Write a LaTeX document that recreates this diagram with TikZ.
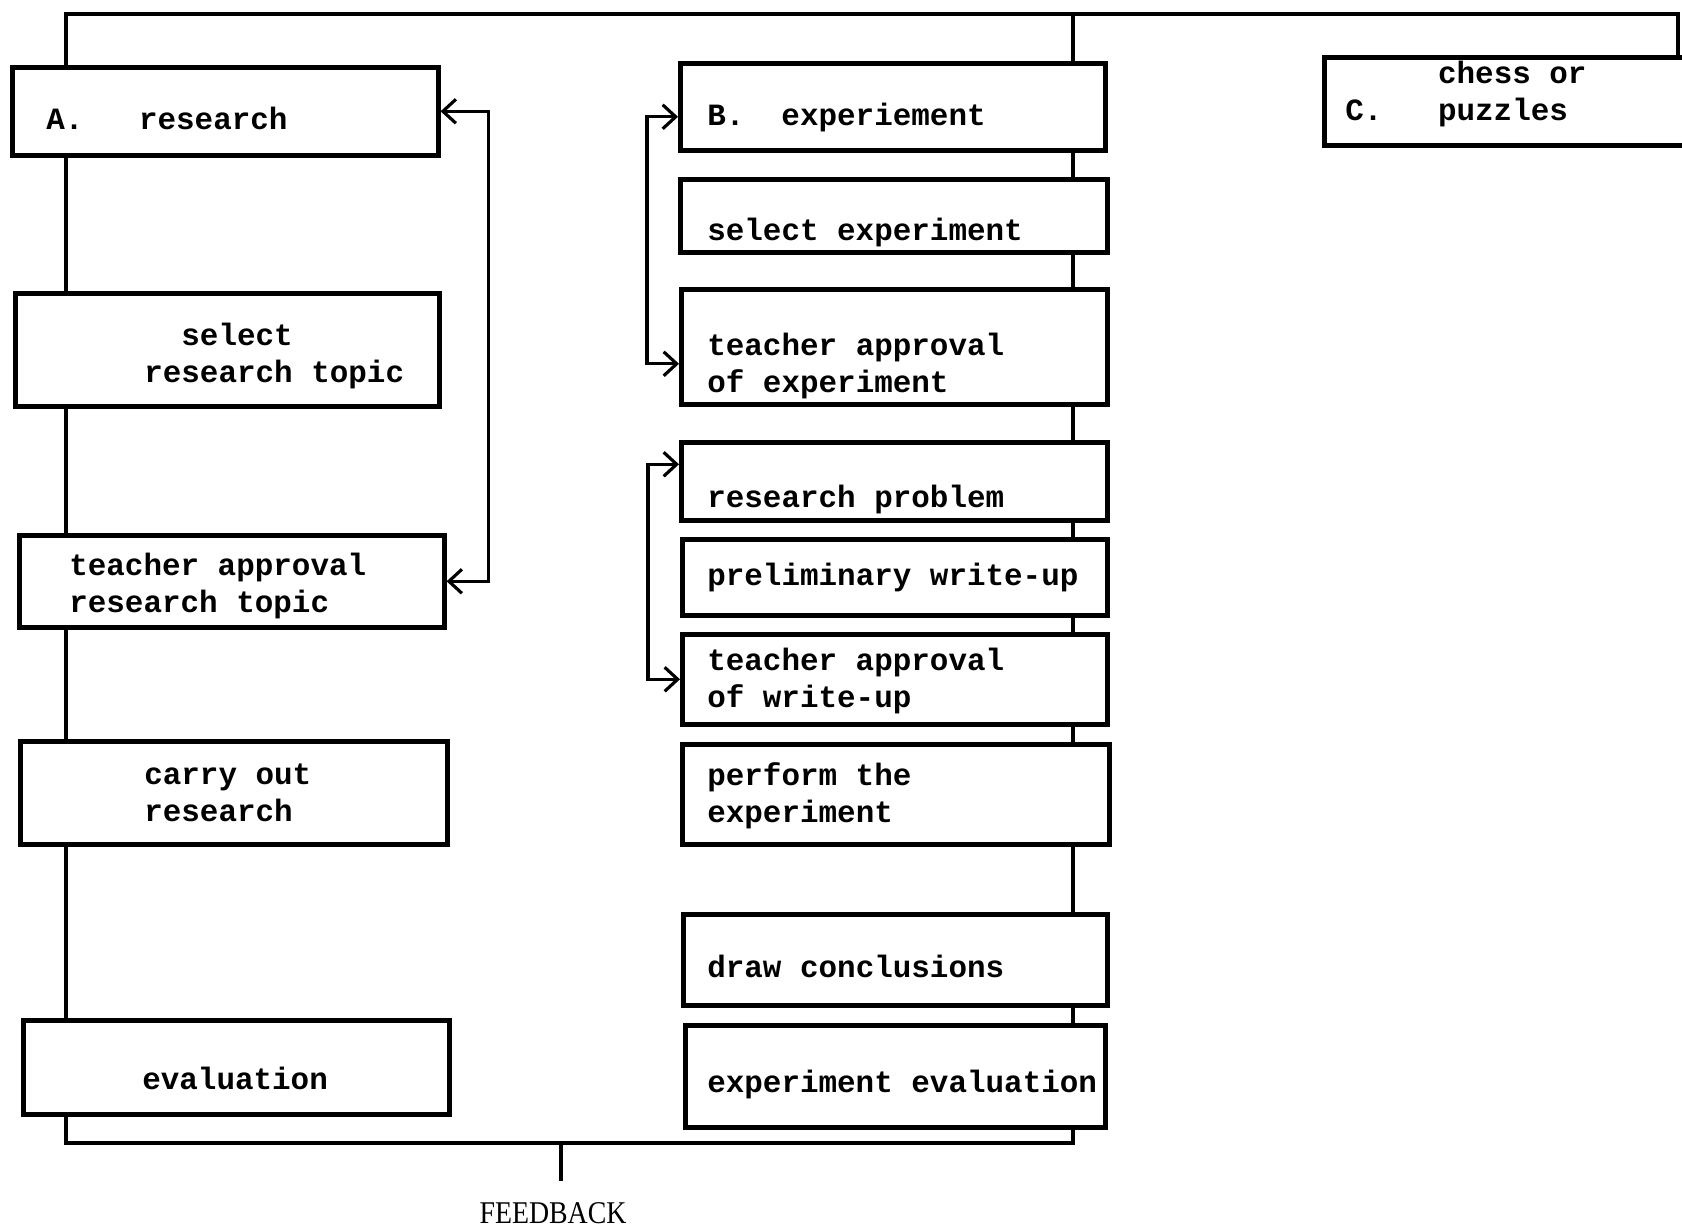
\documentclass[tikz,border=0pt]{standalone}
\usepackage{fontspec}
\setmainfont{Liberation Serif}
\setmonofont{Liberation Mono}
\usetikzlibrary{arrows.meta}
% typewriter face, every space as wide as a letter
\protected\def\boxfont{\ttfamily\bfseries\fontsize{8.8}{10.5}\selectfont
  \fontdimen2\font=0.6em\relax\fontdimen3\font=0pt\relax\fontdimen4\font=0pt\relax}

\begin{document}
\begin{tikzpicture}[x=0.1mm, y=-0.1mm,
    >={Straight Barb[length=1.3mm,width=2.4mm]},
    box/.style={draw, line width=1.3pt, rectangle, anchor=north west,
      inner sep=0pt, align=flush left, font=\boxfont},
    lpad/.style={execute at begin node={\leftskip=#1}},
    line/.style={line width=0.9pt}]
  \useasboundingbox (0,0) rectangle (1682,1228);

  % A. research
  \node[box, text width=42.6mm, text height=6.2mm, text depth=2.6mm, lpad=3.4mm] (a) at (10,65) {A.\ \ \ research};
  \node[box, text width=42.4mm, text height=5.2mm, text depth=6.1mm, lpad=12.9mm] (st) at (13,291) {\ \ select\\research topic};
  \node[box, text width=42.5mm, text height=4.0mm, text depth=5.2mm, lpad=5.0mm] (at) at (17,533) {teacher approval\\research topic};
  \node[box, text width=42.7mm, text height=4.3mm, text depth=6.0mm, lpad=12.4mm] (co) at (18,739) {carry out\\research};
  \node[box, text width=42.6mm, text height=6.9mm, text depth=2.5mm, lpad=11.9mm] (ev) at (21,1018) {evaluation};

  % B. experiment
  \node[box, text width=42.5mm, text height=6.2mm, text depth=2.5mm, lpad=2.7mm] (b) at (678,61) {B.\ \ experiement};
  \node[box, text width=42.7mm, text height=6.1mm, text depth=1.2mm, lpad=2.7mm] (se) at (678,177) {select experiment};
  \node[box, text width=42.6mm, text height=6.6mm, text depth=4.9mm, lpad=2.6mm] (ae) at (679,287) {teacher approval\\of experiment};
  \node[box, text width=42.6mm, text height=6.5mm, text depth=1.3mm, lpad=2.6mm] (rp) at (679,440) {research problem};
  \node[box, text width=42.5mm, text height=4.6mm, text depth=3.0mm, lpad=2.5mm] (pw) at (680,537) {preliminary write-up};
  \node[box, text width=42.5mm, text height=3.6mm, text depth=5.4mm, lpad=2.5mm] (aw) at (680,632) {teacher approval\\of write-up};
  \node[box, text width=42.7mm, text height=4.1mm, text depth=5.9mm, lpad=2.5mm] (pe) at (680,742) {perform the\\experiment};
  \node[box, text width=42.4mm, text height=6.3mm, text depth=2.8mm, lpad=2.4mm] (dc) at (681,912) {draw conclusions};
  \node[box, text width=42.0mm, text height=6.7mm, text depth=3.5mm, lpad=2.2mm] (ee) at (683,1023) {experiment evaluation};

  % C. chess or puzzles
  \node[box, text width=40mm, text height=2.6mm, text depth=6.2mm, lpad=2.1mm] (c) at (1322,55) {\ \ \ \ \ chess or\\C.\ \ \ puzzles};

  \node[font=\rmfamily\fontsize{9}{10}\selectfont, anchor=base, inner sep=2mm] (fb) at (553,1223) {\scalebox{.88}[1]{FEEDBACK}};

  \coordinate (tl) at (66,14);
  \coordinate (tm) at (1073,14);
  \coordinate (tr) at (1678,14);
  \coordinate (bl) at (66,1143);
  \coordinate (br) at (1073,1143);
  \coordinate (fbj) at (561,1143);

  % spines
  \draw[line] (c.north -| tr) -- (tr) -- (tl) -- (tl |- a.north);
  \draw[line] (tm) -- (tm |- b.north);
  \draw[line] (a.south -| tl) -- (st.north -| tl)
    (st.south -| tl) -- (at.north -| tl)
    (at.south -| tl) -- (co.north -| tl)
    (co.south -| tl) -- (ev.north -| tl);
  \draw[line] (b.south -| tm) -- (se.north -| tm)
    (se.south -| tm) -- (ae.north -| tm)
    (ae.south -| tm) -- (rp.north -| tm)
    (rp.south -| tm) -- (pw.north -| tm)
    (pw.south -| tm) -- (aw.north -| tm)
    (aw.south -| tm) -- (pe.north -| tm)
    (pe.south -| tm) -- (dc.north -| tm)
    (dc.south -| tm) -- (ee.north -| tm);
  \draw[line] (ev.south -| bl) -- (bl) -- (br) -- (ee.south -| br);
  \draw[line] (fbj) -- (fbj |- fb.north);

  % approval loops
  \draw[line, <->] (a.east) -- ++(48,0) |- (at.east);
  \draw[line, <->] ([yshift=-1mm]b.west) -- ++(-31,0) |- ([yshift=-1.7mm]ae.west);
  \draw[line, <->] ([yshift=1.7mm]rp.west) -- ++(-31,0) |- (aw.west);
\end{tikzpicture}
\end{document}
